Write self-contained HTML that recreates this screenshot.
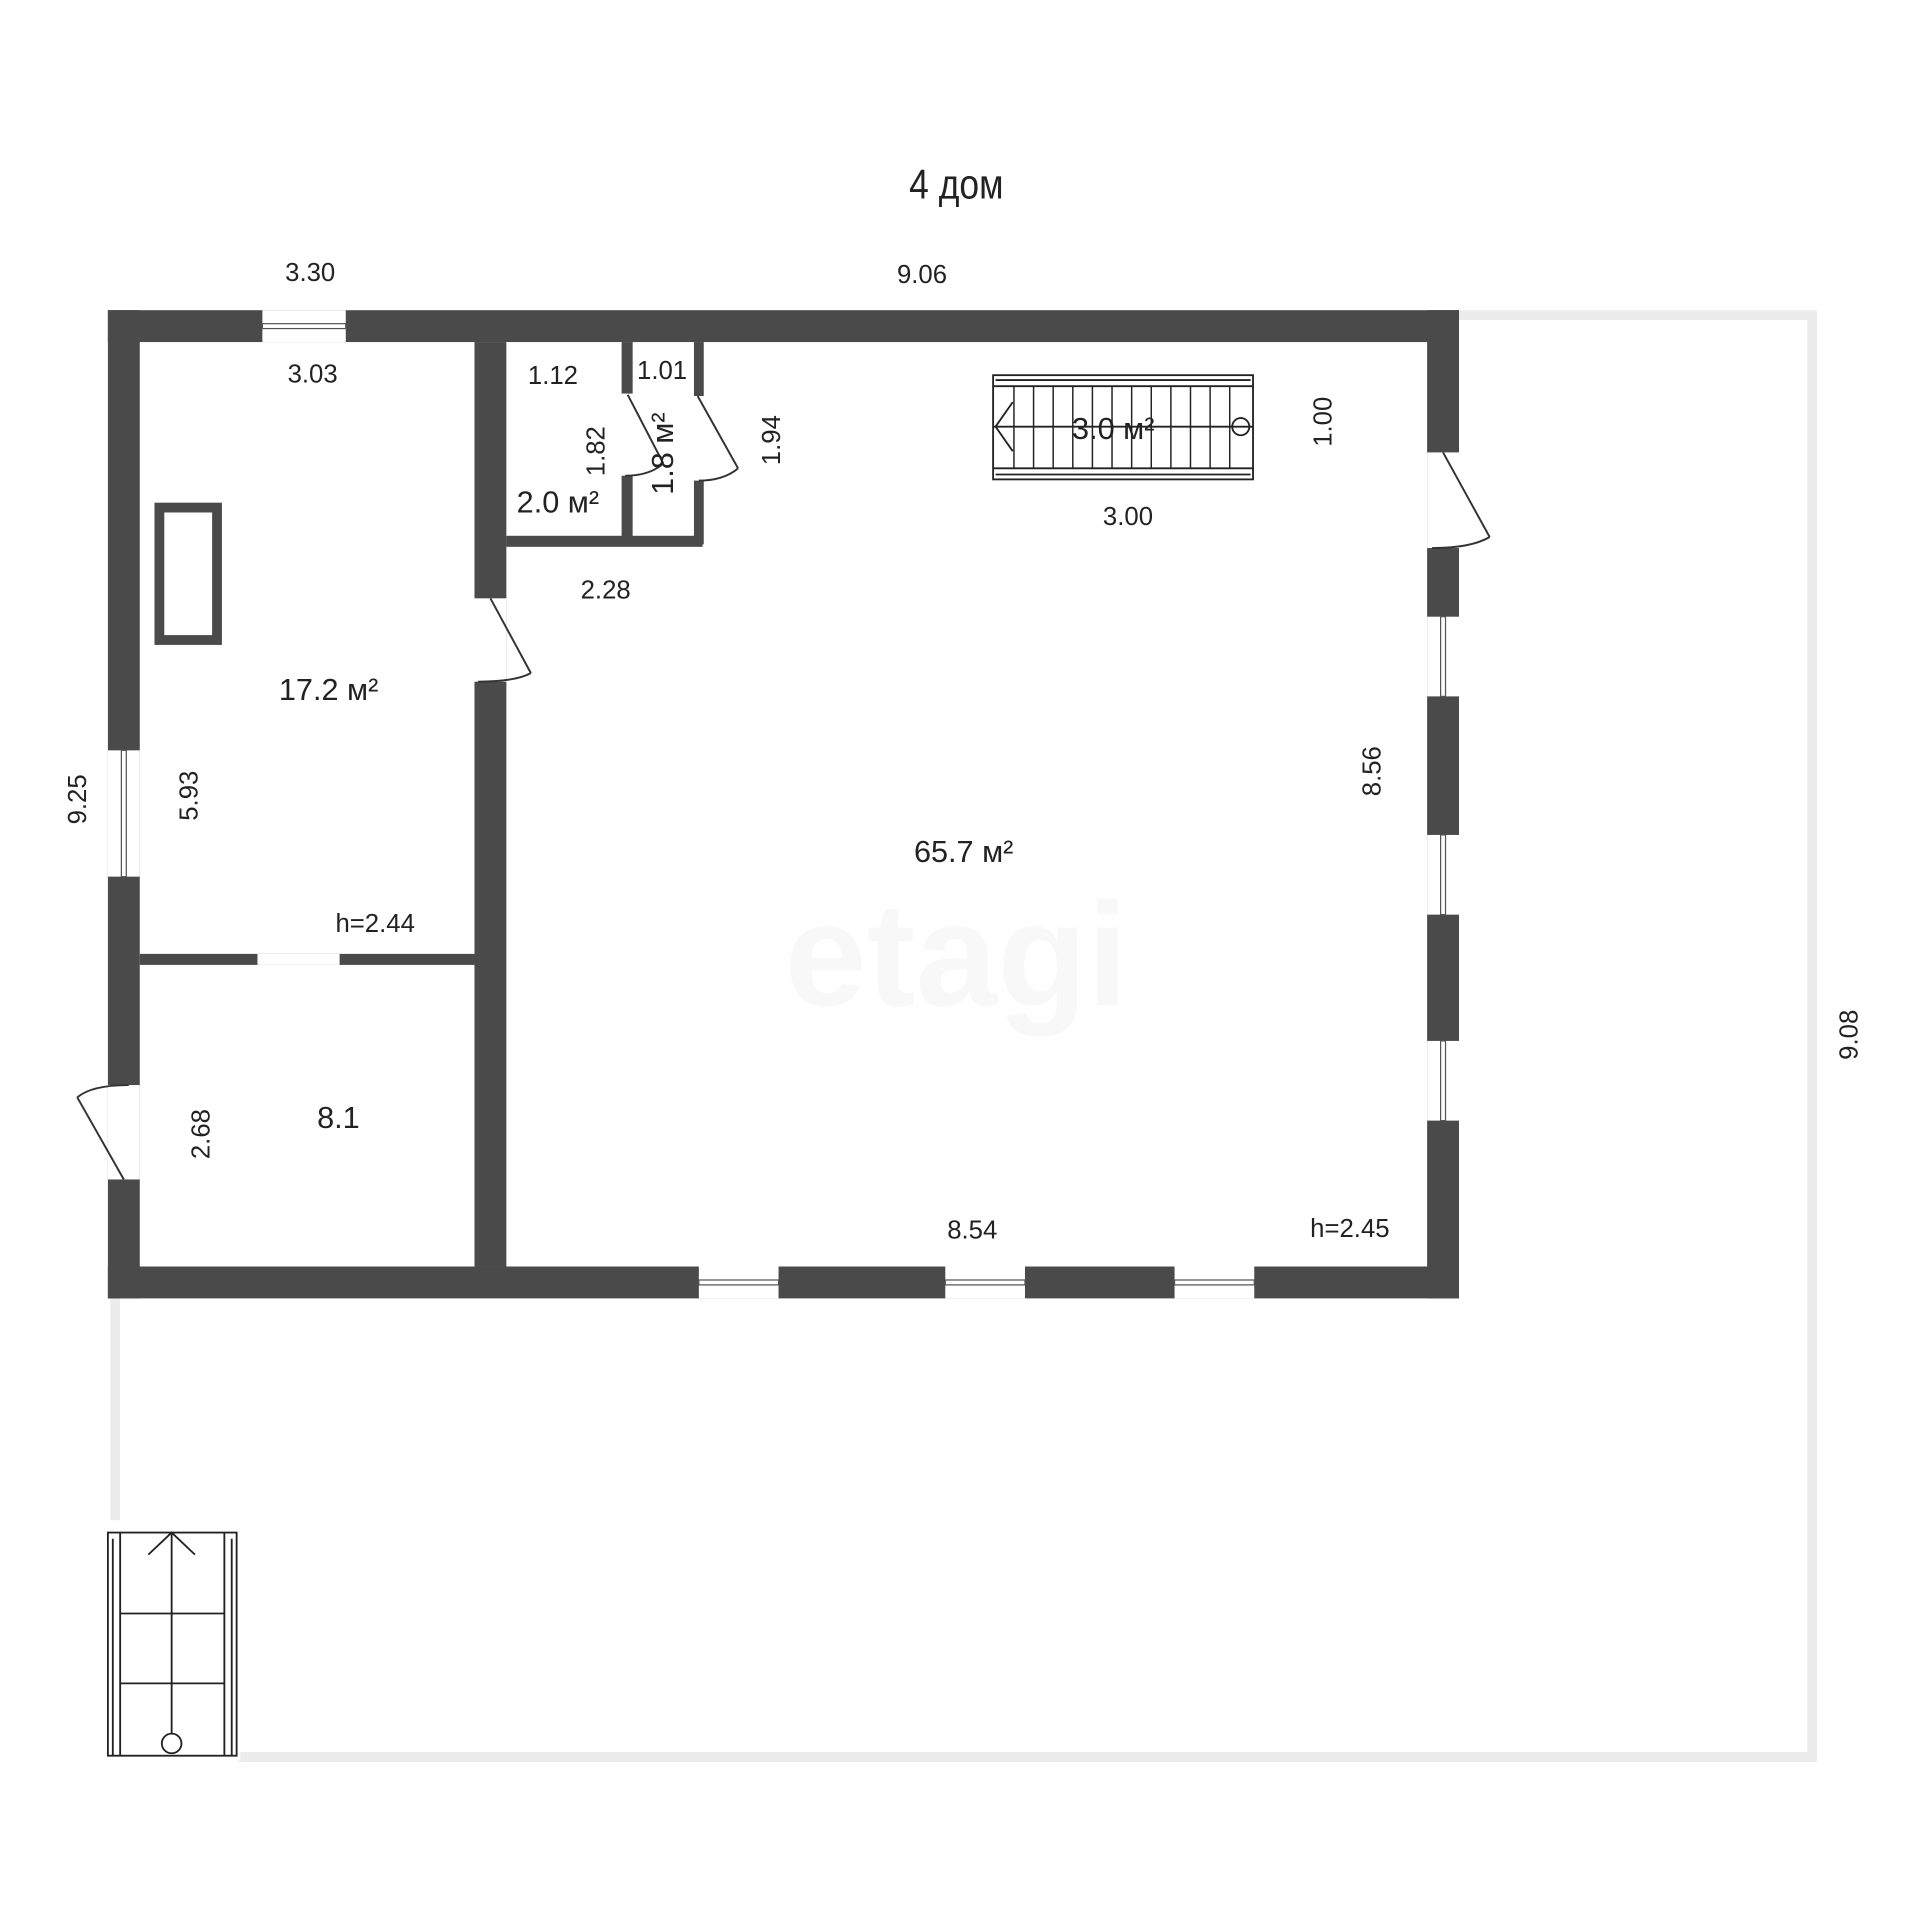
<!DOCTYPE html>
<html><head><meta charset="utf-8"><style>
html,body{margin:0;padding:0;background:#fff;}
svg{display:block;}
text{font-family:"Liberation Sans","DejaVu Sans",sans-serif;fill:#222;}
</style></head><body>
<svg width="1920" height="1920" viewBox="0 0 1566 1566" xmlns="http://www.w3.org/2000/svg">
<g fill="none" stroke="#ececec" stroke-width="8">
<polyline points="1190,257 1478,257 1478,1433 193,1433"/>
<polyline points="94,1059 94,1240"/>
</g>
<text x="780" y="162" font-size="34" text-anchor="middle" transform="translate(780 0) scale(0.85 1) translate(-780 0)">4 дом</text>
<g fill="#4a4a4a">
<rect x="88" y="253" width="1102" height="26"/>
<rect x="88" y="253" width="26" height="806"/>
<rect x="88" y="1033" width="1102" height="26"/>
<rect x="1164" y="253" width="26" height="806"/>
<rect x="387" y="279" width="26" height="754"/>
<rect x="114" y="778" width="273" height="9"/>
<rect x="413" y="437" width="160" height="9"/>
<rect x="507" y="279" width="9" height="42"/>
<rect x="507" y="388" width="9" height="52"/>
<rect x="566" y="279" width="8" height="44"/>
<rect x="566" y="392" width="8" height="52"/>
</g>
<g fill="#fff">
<rect x="214" y="253" width="68" height="26"/>
<rect x="88" y="612" width="26" height="103"/>
<rect x="88" y="885" width="26" height="77"/>
<rect x="387" y="488" width="26" height="68"/>
<rect x="210" y="778" width="67" height="9"/>
<rect x="1164" y="369" width="26" height="78"/>
<rect x="1164" y="503" width="26" height="65"/>
<rect x="1164" y="681" width="26" height="65"/>
<rect x="1164" y="849" width="26" height="65"/>
<rect x="570" y="1033" width="65" height="26"/>
<rect x="771" y="1033" width="65" height="26"/>
<rect x="958" y="1033" width="65" height="26"/>
</g>
<g stroke="#555" stroke-width="1" fill="none">
<rect x="214" y="264" width="68" height="4"/>
<rect x="99" y="612" width="4" height="103"/>
<rect x="1175" y="503" width="4" height="65"/>
<rect x="1175" y="681" width="4" height="65"/>
<rect x="1175" y="849" width="4" height="65"/>
<rect x="570" y="1044" width="65" height="4"/>
<rect x="771" y="1044" width="65" height="4"/>
<rect x="958" y="1044" width="65" height="4"/>
</g>
<g stroke="#333" stroke-width="1.6" fill="none">
<line x1="400" y1="488" x2="433" y2="549"/><path d="M433,549 Q420,556 390,556"/>
<line x1="101" y1="962" x2="63" y2="895"/><path d="M63,895 Q75,885 105,885"/>
<line x1="1177" y1="369" x2="1215" y2="438"/><path d="M1215,438 Q1200,447 1168,447"/>
<line x1="512" y1="322" x2="541" y2="378"/><path d="M541,378 Q530,388 510,388"/>
<line x1="569" y1="323" x2="602" y2="382"/><path d="M602,382 Q590,392 570,392"/>
</g>
<rect x="130" y="414" width="47" height="108" fill="none" stroke="#4a4a4a" stroke-width="8"/>
<g stroke="#222" stroke-width="1.5" fill="none">
<rect x="810" y="306" width="212" height="85"/>
<line x1="812" y1="310" x2="1020" y2="310"/>
<line x1="812" y1="387" x2="1020" y2="387"/>
<line x1="810" y1="315" x2="1022" y2="315"/>
<line x1="810" y1="382" x2="1022" y2="382"/>
<line x1="810" y1="348" x2="1022" y2="348"/>
<polyline points="826,328 812,348 826,368"/>
<circle cx="1012" cy="348" r="7"/>
</g>
<g stroke="#222" stroke-width="1.2">
<line x1="827" y1="315" x2="827" y2="382"/><line x1="843" y1="315" x2="843" y2="382"/>
<line x1="859" y1="315" x2="859" y2="382"/><line x1="875" y1="315" x2="875" y2="382"/>
<line x1="891" y1="315" x2="891" y2="382"/><line x1="907" y1="315" x2="907" y2="382"/>
<line x1="923" y1="315" x2="923" y2="382"/><line x1="939" y1="315" x2="939" y2="382"/>
<line x1="955" y1="315" x2="955" y2="382"/><line x1="971" y1="315" x2="971" y2="382"/>
<line x1="987" y1="315" x2="987" y2="382"/><line x1="1003" y1="315" x2="1003" y2="382"/>
</g>
<rect x="86" y="1246" width="110" height="190" fill="#fff"/>
<g stroke="#222" stroke-width="1.5" fill="none">
<rect x="88" y="1250" width="105" height="182"/>
<line x1="92" y1="1255" x2="92" y2="1432"/><line x1="189" y1="1255" x2="189" y2="1432"/>
<line x1="98" y1="1250" x2="98" y2="1432"/><line x1="183" y1="1250" x2="183" y2="1432"/>
<line x1="98" y1="1316" x2="183" y2="1316"/><line x1="98" y1="1373" x2="183" y2="1373"/>
<line x1="140" y1="1250" x2="140" y2="1414"/>
<polyline points="121,1268 140,1250 159,1268"/>
<circle cx="140" cy="1422" r="8"/>
</g>
<g font-size="21" text-anchor="middle">
<text x="253" y="229">3.30</text>
<text x="752" y="231">9.06</text>
<text x="255" y="312">3.03</text>
<text x="451" y="313">1.12</text>
<text x="540" y="309">1.01</text>
<text x="455" y="418" font-size="25">2.0 м²</text>
<text x="494" y="488">2.28</text>
<text x="268" y="571" font-size="25">17.2 м²</text>
<text x="306" y="760">h=2.44</text>
<text x="276" y="920" font-size="25">8.1</text>
<text x="786" y="703" font-size="25">65.7 м²</text>
<text x="908" y="358" font-size="25">3.0 м²</text>
<text x="920" y="428">3.00</text>
<text x="793" y="1010">8.54</text>
<text x="1101" y="1009">h=2.45</text>
<text transform="translate(70 652) rotate(-90)">9.25</text>
<text transform="translate(161 649) rotate(-90)">5.93</text>
<text transform="translate(171 925) rotate(-90)">2.68</text>
<text transform="translate(493 368) rotate(-90)">1.82</text>
<text transform="translate(549 370) rotate(-90)" font-size="25">1.8 м²</text>
<text transform="translate(636 359) rotate(-90)">1.94</text>
<text transform="translate(1086 344) rotate(-90)">1.00</text>
<text transform="translate(1126 629) rotate(-90)">8.56</text>
<text transform="translate(1515 844) rotate(-90)">9.08</text>
</g>
<text x="780" y="820" font-size="120" font-weight="bold" text-anchor="middle" style="fill:#f8f8f8">etagi</text>
</svg>
</body></html>
